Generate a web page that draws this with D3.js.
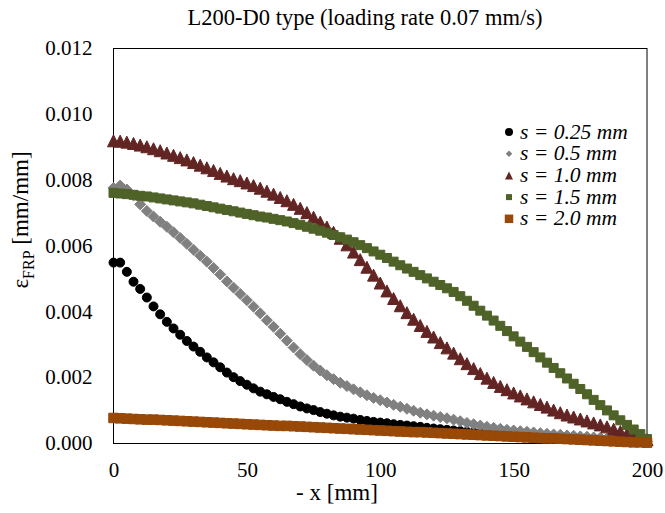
<!DOCTYPE html>
<html>
<head>
<meta charset="utf-8">
<script src="https://cdn.jsdelivr.net/npm/d3@7"></script>
<style>
body { margin: 0; background: #fff; }
svg text { font-family: "Liberation Serif", "Times New Roman", serif; }
</style>
</head>
<body>
<div id="chart"></div>
<script>
// distance from loaded end, mm
var positions = [0, 2.5, 5, 7.5, 10, 12.5, 15, 17.5, 20, 22.5,
    25, 27.5, 30, 32.5, 35, 37.5, 40, 42.5, 45, 47.5,
    50, 52.5, 55, 57.5, 60, 62.5, 65, 67.5, 70, 72.5,
    75, 77.5, 80, 82.5, 85, 87.5, 90, 92.5, 95, 97.5,
    100, 102.5, 105, 107.5, 110, 112.5, 115, 117.5, 120, 122.5,
    125, 127.5, 130, 132.5, 135, 137.5, 140, 142.5, 145, 147.5,
    150, 152.5, 155, 157.5, 160, 162.5, 165, 167.5, 170, 172.5,
    175, 177.5, 180, 182.5, 185, 187.5, 190, 192.5, 195, 197.5, 200]

var strainS025 = [0.00548, 0.00548, 0.00520, 0.00490, 0.00468, 0.00442, 0.00415, 0.00391, 0.00368, 0.00348,
    0.00329, 0.00310, 0.00293, 0.00277, 0.00260, 0.00245, 0.00230, 0.00214, 0.00200, 0.00188,
    0.00177, 0.00166, 0.00156, 0.00148, 0.00140, 0.00133, 0.00125, 0.00118, 0.00111, 0.00105,
    0.00100, 0.00094, 0.00089, 0.00084, 0.00080, 0.00077, 0.00074, 0.00070, 0.00067, 0.00064,
    0.00062, 0.00060, 0.00057, 0.00055, 0.00053, 0.00051, 0.00049, 0.00046, 0.00044, 0.00042,
    0.00040, 0.00038, 0.00036, 0.00034, 0.00032, 0.00030, 0.00028, 0.00026, 0.00025, 0.00023,
    0.00022, 0.00020, 0.00019, 0.00018, 0.00017, 0.00016, 0.00015, 0.00014, 0.00013, 0.00012,
    0.00011, 0.00010, 0.00009, 0.00008, 0.00007, 0.00007, 0.00006, 0.00005, 0.00004, 0.00003, 0.00002]

var strainS05 = [0.00775, 0.00782, 0.00770, 0.00752, 0.00725, 0.00705, 0.00688, 0.00672, 0.00657, 0.00640,
    0.00623, 0.00605, 0.00587, 0.00569, 0.00551, 0.00532, 0.00512, 0.00491, 0.00472, 0.00453,
    0.00434, 0.00414, 0.00394, 0.00373, 0.00353, 0.00332, 0.00311, 0.00290, 0.00270, 0.00252,
    0.00235, 0.00220, 0.00206, 0.00194, 0.00183, 0.00173, 0.00163, 0.00154, 0.00145, 0.00137,
    0.00130, 0.00123, 0.00116, 0.00110, 0.00104, 0.00098, 0.00092, 0.00087, 0.00083, 0.00079,
    0.00075, 0.00071, 0.00066, 0.00061, 0.00057, 0.00053, 0.00049, 0.00046, 0.00043, 0.00040,
    0.00038, 0.00036, 0.00034, 0.00032, 0.00030, 0.00028, 0.00026, 0.00025, 0.00023, 0.00022,
    0.00020, 0.00019, 0.00017, 0.00016, 0.00014, 0.00013, 0.00011, 0.00010, 0.00008, 0.00007, 0.00005]

var strainS10 = [0.00918, 0.00917, 0.00914, 0.00910, 0.00905, 0.00900, 0.00894, 0.00888, 0.00881, 0.00874,
    0.00867, 0.00860, 0.00852, 0.00844, 0.00836, 0.00828, 0.00819, 0.00811, 0.00803, 0.00797,
    0.00790, 0.00782, 0.00774, 0.00765, 0.00756, 0.00746, 0.00736, 0.00725, 0.00713, 0.00700,
    0.00686, 0.00671, 0.00656, 0.00640, 0.00622, 0.00602, 0.00580, 0.00557, 0.00534, 0.00510,
    0.00486, 0.00462, 0.00439, 0.00417, 0.00396, 0.00376, 0.00357, 0.00339, 0.00322, 0.00305,
    0.00289, 0.00273, 0.00256, 0.00241, 0.00226, 0.00211, 0.00197, 0.00184, 0.00172, 0.00162,
    0.00152, 0.00143, 0.00134, 0.00125, 0.00117, 0.00109, 0.00100, 0.00092, 0.00085, 0.00079,
    0.00073, 0.00067, 0.00061, 0.00055, 0.00049, 0.00042, 0.00035, 0.00028, 0.00022, 0.00016, 0.00010]

var strainS15 = [0.00760, 0.00758, 0.00756, 0.00754, 0.00751, 0.00749, 0.00746, 0.00743, 0.00740, 0.00737,
    0.00734, 0.00731, 0.00728, 0.00724, 0.00720, 0.00716, 0.00712, 0.00708, 0.00704, 0.00700,
    0.00696, 0.00692, 0.00688, 0.00685, 0.00681, 0.00677, 0.00673, 0.00668, 0.00663, 0.00657,
    0.00651, 0.00645, 0.00639, 0.00632, 0.00625, 0.00618, 0.00610, 0.00601, 0.00592, 0.00582,
    0.00572, 0.00562, 0.00551, 0.00540, 0.00530, 0.00520, 0.00510, 0.00500, 0.00490, 0.00480,
    0.00470, 0.00459, 0.00446, 0.00432, 0.00417, 0.00402, 0.00387, 0.00372, 0.00356, 0.00340,
    0.00324, 0.00308, 0.00292, 0.00276, 0.00260, 0.00244, 0.00228, 0.00212, 0.00196, 0.00180,
    0.00164, 0.00148, 0.00131, 0.00115, 0.00099, 0.00084, 0.00069, 0.00055, 0.00041, 0.00027, 0.00012]

var strainS20 = [0.00076, 0.00075, 0.00074, 0.00073, 0.00072, 0.00071, 0.00071, 0.00070, 0.00069, 0.00068,
    0.00067, 0.00066, 0.00065, 0.00064, 0.00063, 0.00062, 0.00061, 0.00060, 0.00059, 0.00058,
    0.00057, 0.00056, 0.00055, 0.00054, 0.00053, 0.00052, 0.00052, 0.00051, 0.00050, 0.00049,
    0.00048, 0.00047, 0.00046, 0.00045, 0.00044, 0.00043, 0.00042, 0.00041, 0.00040, 0.00039,
    0.00038, 0.00037, 0.00036, 0.00035, 0.00034, 0.00033, 0.00033, 0.00032, 0.00031, 0.00030,
    0.00029, 0.00028, 0.00027, 0.00026, 0.00025, 0.00024, 0.00023, 0.00022, 0.00021, 0.00020,
    0.00019, 0.00018, 0.00017, 0.00016, 0.00015, 0.00014, 0.00014, 0.00013, 0.00012, 0.00011,
    0.00010, 0.00009, 0.00008, 0.00007, 0.00006, 0.00005, 0.00004, 0.00003, 0.00002, 0.00002, 0.00001]

var seriesLabels = ["s = 0.25 mm", "s = 0.5 mm", "s = 1.0 mm", "s = 1.5 mm", "s = 2.0 mm"]
var xTicks = [0, 50, 100, 150, 200]
var yTicks = [0, 0.002, 0.004, 0.006, 0.008, 0.010, 0.012]

var serif = '"Liberation Serif", "Times New Roman", serif'
var width = 665, height = 513
var margin = {top: 48, right: 18, bottom: 70, left: 113.5}

var svg = d3.select("#chart").append("svg")
    .attr("width", width)
    .attr("height", height)
    .attr("font-family", serif)

var x = d3.scaleLinear().domain([0, 200]).range([margin.left, width - margin.right])
var y = d3.scaleLinear().domain([0, 0.012]).range([height - margin.bottom, margin.top])

// excel style markers fit a w x w box, size here = w*w
var boxTriangle = {
    draw: function (ctx, size) {
        var h = Math.sqrt(size) / 2
        ctx.moveTo(0, -h)
        ctx.lineTo(h, h)
        ctx.lineTo(-h, h)
        ctx.closePath()
    }
}
var boxDiamond = {
    draw: function (ctx, size) {
        var h = Math.sqrt(size) / 2
        ctx.moveTo(0, -h)
        ctx.lineTo(h, 0)
        ctx.lineTo(0, h)
        ctx.lineTo(-h, 0)
        ctx.closePath()
    }
}
var boxSquare = {
    draw: function (ctx, size) {
        var h = Math.sqrt(size) / 2
        ctx.rect(-h, -h, 2 * h, 2 * h)
    }
}
var boxCircle = {
    draw: function (ctx, size) {
        var h = Math.sqrt(size) / 2
        ctx.moveTo(h, 0)
        ctx.arc(0, 0, h, 0, 2 * Math.PI)
    }
}

var styles = [
    {color: "#000000", type: boxCircle, w: 9},
    {color: "#808080", type: boxDiamond, w: 11},
    {color: "#632523", type: boxTriangle, w: 12},
    {color: "#4f6228", type: boxSquare, w: 9},
    {color: "#984807", type: boxSquare, w: 9.5}
]
var legendW = [8, 6.5, 8, 6, 8.5]

var allSeries = [strainS025, strainS05, strainS10, strainS15, strainS20]

// title
svg.append("text")
    .attr("x", 365)
    .attr("y", 25)
    .attr("text-anchor", "middle")
    .style("font-size", "22.5px")
    .text("L200-D0 type (loading rate 0.07 mm/s)")

// axes, no tick marks
var yAxis = svg.append("g")
    .attr("transform", "translate(" + margin.left + ",0)")
    .call(d3.axisLeft(y).tickValues(yTicks).tickFormat(d3.format(".3f")).tickSize(0).tickPadding(21))
yAxis.attr("font-family", serif).attr("font-size", 21)
yAxis.select(".domain").remove()
yAxis.selectAll("text").attr("fill", "#000")

var xAxis = svg.append("g")
    .attr("transform", "translate(0," + (height - margin.bottom) + ")")
    .call(d3.axisBottom(x).tickValues(xTicks).tickSize(0).tickPadding(19))
xAxis.attr("font-family", serif).attr("font-size", 21)
xAxis.select(".domain").remove()
xAxis.selectAll("text").attr("fill", "#000")

// plot frame
svg.append("rect")
    .attr("x", margin.left)
    .attr("y", margin.top + 0.5)
    .attr("width", x(200) - margin.left)
    .attr("height", y(0) - y(0.012))
    .attr("fill", "none")
    .attr("stroke", "#000")
    .attr("stroke-width", 1)

// series markers
allSeries.forEach(function (vals, i) {
    var st = styles[i]
    var sym = d3.symbol().type(st.type).size(st.w * st.w)
    svg.append("g")
        .selectAll("path")
        .data(vals)
        .enter()
        .append("path")
        .attr("d", sym)
        .attr("transform", function (d, j) {
            return "translate(" + x(positions[j]) + "," + y(d) + ")"
        })
        .attr("fill", st.color)
        .attr("stroke", st.color)
        .attr("stroke-width", 1)
        .attr("stroke-linejoin", "round")
})

// axis titles
svg.append("text")
    .attr("x", 337)
    .attr("y", 500)
    .attr("text-anchor", "middle")
    .style("font-size", "23px")
    .text("- x [mm]")

var yTitle = svg.append("text")
    .attr("transform", "translate(28,220) rotate(-90)")
    .attr("text-anchor", "middle")
    .style("font-size", "23px")
yTitle.append("tspan").text("\u03b5")
yTitle.append("tspan").style("font-size", "16px").attr("dy", "6").text("FRP")
yTitle.append("tspan").attr("dy", "-6").text(" [mm/mm]")

// legend
var legend = svg.append("g").attr("transform", "translate(509,132)")
seriesLabels.forEach(function (label, i) {
    var st = styles[i]
    legend.append("path")
        .attr("d", d3.symbol().type(st.type).size(legendW[i] * legendW[i]))
        .attr("transform", "translate(0," + (i * 21.7) + ")")
        .attr("fill", st.color)
    legend.append("text")
        .attr("x", 11)
        .attr("y", i * 21.7 + 6.5)
        .style("font-size", "21.5px")
        .style("font-style", "italic")
        .text(label)
})
</script>
</body>
</html>
